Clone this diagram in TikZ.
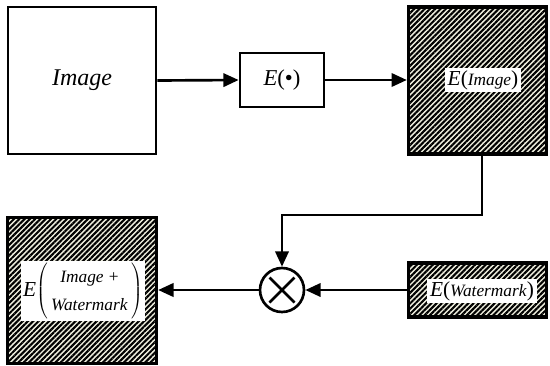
\documentclass[tikz,border=0pt]{standalone}
\usepackage{fontspec}
\setmainfont{Liberation Serif}
\usetikzlibrary{arrows.meta,patterns.meta}
\tikzset{
  plainbox/.style={draw, line width=2pt, fill=white, inner sep=0pt},
  hatchbox/.style={draw, line width=2.5pt, inner sep=0pt,
    fill={rgb,255:red,238;green,238;blue,222},
    postaction={pattern={Lines[angle=45,distance=2.8pt,line width=1.55pt]}, pattern color=black}},
  tag/.style={fill=white, inner sep=2pt},
  arr/.style={line width=2pt, -{Triangle[length=11.5pt,width=10pt]}},
  big/.style={font=\fontsize{16}{19}\selectfont},
}
\newcommand{\smallit}[1]{{\fontsize{13}{15}\selectfont\textit{#1}}}
\begin{document}
\begin{tikzpicture}[x=0.75pt,y=-0.75pt]
\useasboundingbox (0,0) rectangle (550,365);
% source image
\node[plainbox, minimum width=148*0.75pt, minimum height=147*0.75pt] (img) at (82,80.5)
  {\fontsize{18}{21}\selectfont\textit{Image}};
% encryption operator
\node[plainbox, minimum width=84*0.75pt, minimum height=54*0.75pt] (enc) at (282,80)
  {\fontsize{17}{20}\selectfont\textit{E}(\textbullet)};
% encrypted image
\node[hatchbox, minimum width=138*0.75pt, minimum height=147*0.75pt] (eimg) at (477.5,80.5) {};
\node[tag, big] (eimglbl) at (483,80) {\textit{E}(\smallit{Image})};
% encrypted watermark
\node[hatchbox, minimum width=138*0.75pt, minimum height=54*0.75pt] (ewm) at (477.5,290) {};
\node[tag, big] (ewmlbl) at (482,291) {\textit{E}(\smallit{Watermark})};
% multiplication node
\node[draw, circle, line width=2pt, minimum size=44*0.75pt, inner sep=0pt] (mul) at (282,290) {};
\draw[line width=2pt] ([shift={(-12.5,-12.5)}]mul.center) -- ([shift={(12.5,12.5)}]mul.center);
\draw[line width=2pt] ([shift={(-12.5,12.5)}]mul.center) -- ([shift={(12.5,-12.5)}]mul.center);
% encrypted result
\node[hatchbox, minimum width=149*0.75pt, minimum height=146*0.75pt] (res) at (82,290.5) {};
\node[tag, big, inner sep=1.5pt] (reslbl) at (83,291)
  {\textit{E}$\left(\vcenter{\hbox{\begin{tabular}{@{\hspace{2.5pt}}c@{\hspace{2.5pt}}}\smallit{Image} {\fontsize{13}{15}\selectfont+}\\[2pt]\smallit{Watermark}\end{tabular}}}\right)$};
% connectors
\draw[arr] (img.east) -- (enc.west);
\draw[arr] (enc.east) -- (eimg.west |- enc.east);
\coordinate (turn) at (482,215);
\draw[arr] (eimg.south -| turn) -- (turn) -| (mul.north);
\draw[arr] (ewm.west |- mul.east) -- (mul.east);
\draw[arr] (mul.west) -- (res.east |- mul.west);
\end{tikzpicture}
\end{document}
